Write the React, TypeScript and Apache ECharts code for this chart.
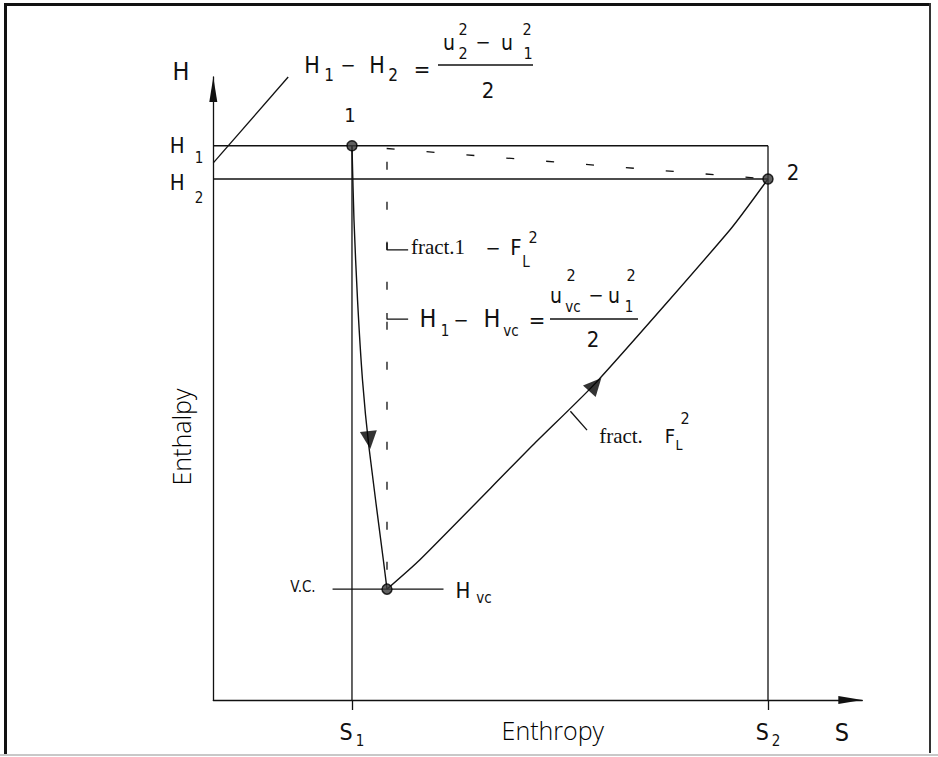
import React, { useEffect, useRef } from "react";
import * as echarts from "echarts";

// ---- data: entropy S (x) vs enthalpy H (y), arbitrary units ----
const S_TICKS = [20, 80]; // S1, S2
const S_SUBS = ["1", "2"];
const H_TICKS = [100, 94]; // H1, H2
const H_SUBS = ["1", "2"];
const STATE_POINTS = [
  [20, 100], // 1
  [80, 94], // 2
  [25.05, 20], // v.c.
];
const THROTTLE_PATH = [
  [20, 100],
  [20.29, 86.6],
  [20.8, 72.2],
  [21.52, 57.7],
  [22.45, 45.6],
  [24.52, 25.3],
  [25.05, 20],
];
const RECOVERY_PATH = [
  [25.05, 20],
  [29.8, 25.3],
  [46.1, 46.0],
  [55.3, 57.4],
  [74.5, 84.8],
  [80, 94],
];
const PATH_ARROWS = [
  [22.5, 46.9],
  [55.1, 56.9],
];
const ARROW_ANGLES = [186, -42];
const H1_GUIDE = [
  [0, 100],
  [80, 100],
];
const H2_GUIDE = [
  [0, 94],
  [80, 94],
];
const S1_GUIDE = [
  [20, 100],
  [20, 0],
];
const S2_GUIDE = [
  [80, 100],
  [80, 0],
];
const VC_GUIDE = [
  [17.2, 20],
  [33.2, 20],
];
const DIRECT_DASH = [
  [25, 99.5],
  [80, 94],
];
const VERTICAL_DASH = [
  [25.05, 97.1],
  [25.05, 20],
];
const NOTE_TICK_A = [
  [25.05, 82.45],
  [25.05, 81.2],
  [28.1, 81.2],
];
const NOTE_TICK_B = [
  [25.05, 69.8],
  [25.05, 68.7],
  [28.1, 68.7],
];
const LEADER_TOP = [
  [0, 96.9],
  [10.8, 112.4],
];
const LEADER_FRACT = [
  [51.5, 52.1],
  [53.9, 48.7],
];

const INK = "#111";
const NARROW = '"Liberation Sans Narrow", "DejaVu Sans Condensed", "Arial Narrow", sans-serif';
const SERIF = '"Liberation Serif", "DejaVu Serif", serif';
const SANS = '"Open Sans", "Noto Sans", sans-serif';

function txt(text: string, x: number, y: number, size: number, family = NARROW) {
  return {
    type: "text",
    x,
    y,
    z: 20,
    silent: true,
    style: {
      text,
      fill: INK,
      font: `normal ${size}px ${family}`,
      align: "center",
      verticalAlign: "middle",
      textAlign: "center",
      textVerticalAlign: "middle",
    },
  };
}

function bar(x1: number, y1: number, x2: number, y2: number) {
  return {
    type: "line",
    z: 20,
    silent: true,
    shape: { x1, y1, x2, y2 },
    style: { stroke: INK, lineWidth: 1.3 },
  };
}

function rect(x: number, y: number, width: number, height: number, fill: string) {
  return { type: "rect", z: 30, silent: true, shape: { x, y, width, height }, style: { fill } };
}

function lineSeries(data: number[][], extra: any = {}) {
  return {
    type: "line",
    data,
    symbol: "none",
    silent: true,
    clip: false,
    animation: false,
    lineStyle: { color: INK, width: 1.3, ...extra },
    z: 3,
  };
}

export default function App() {
  const ref = useRef<HTMLDivElement>(null);

  useEffect(() => {
    document.body.style.margin = "0";
    if (!ref.current) return;
    const chart = echarts.init(ref.current, undefined, { renderer: "svg" });

    const option: any = {
      animation: false,
      backgroundColor: "#fff",
      grid: {
        left: 213.3,
        top: 77,
        width: 649,
        height: 623,
        containLabel: false,
        outerBoundsMode: "none",
      },
      xAxis: {
        type: "value",
        min: 0,
        max: 93.6,
        splitLine: { show: false },
        axisLine: {
          show: true,
          onZero: false,
          lineStyle: { color: INK, width: 1.3 },
          symbol: ["none", "triangle"],
          symbolSize: [8, 24],
          symbolOffset: [0, -12],
        },
        axisTick: {
          show: true,
          customValues: S_TICKS,
          length: 10,
          lineStyle: { color: INK, width: 1.3 },
        },
        axisLabel: {
          customValues: S_TICKS,
          margin: 15,
          formatter: (v: number) => {
            const i = S_TICKS.indexOf(v);
            return `{s|S}{b|${S_SUBS[i] ?? ""}}`;
          },
          rich: {
            s: { fontFamily: NARROW, fontSize: 23, color: INK, verticalAlign: "middle" },
            b: {
              fontFamily: NARROW,
              fontSize: 15,
              color: INK,
              verticalAlign: "middle",
              padding: [18, 0, 0, 3],
            },
          },
        },
        name: "Enthropy",
        nameLocation: "middle",
        nameGap: 17,
        nameMoveOverlap: false,
        nameTextStyle: {
          fontFamily: SANS,
          fontWeight: 300,
          fontSize: 25,
          color: "#000",
          padding: [0, 0, 0, 30],
        },
      },
      yAxis: {
        type: "value",
        min: 0,
        max: 112.4,
        splitLine: { show: false },
        axisLine: {
          show: true,
          onZero: false,
          lineStyle: { color: INK, width: 1.3 },
          symbol: ["none", "triangle"],
          symbolSize: [8, 25],
          symbolOffset: [0, -12.5],
        },
        axisTick: { show: false },
        axisLabel: {
          customValues: H_TICKS,
          margin: 10,
          formatter: (v: number) => {
            const i = H_TICKS.indexOf(v);
            return `{h${i}|H}{b${i}|${H_SUBS[i] ?? ""}}`;
          },
          rich: {
            h0: { fontFamily: NARROW, fontSize: 22, color: INK, verticalAlign: "middle" },
            b0: {
              fontFamily: NARROW,
              fontSize: 15,
              color: INK,
              verticalAlign: "middle",
              padding: [24, 0, 0, 10],
            },
            h1: {
              fontFamily: NARROW,
              fontSize: 22,
              color: INK,
              verticalAlign: "middle",
              padding: [8, 0, 0, 0],
            },
            b1: {
              fontFamily: NARROW,
              fontSize: 15,
              color: INK,
              verticalAlign: "middle",
              padding: [38, 0, 0, 10],
            },
          },
        },
        name: "Enthalpy",
        nameLocation: "middle",
        nameGap: 20,
        nameMoveOverlap: false,
        nameTextStyle: {
          fontFamily: SANS,
          fontWeight: 300,
          fontSize: 25,
          color: "#000",
          padding: [0, 97, 0, 0],
        },
      },
      series: [
        lineSeries(H1_GUIDE),
        lineSeries(H2_GUIDE),
        lineSeries(S1_GUIDE),
        lineSeries(S2_GUIDE),
        lineSeries(VC_GUIDE),
        lineSeries(DIRECT_DASH, { type: [8, 32] }),
        lineSeries(VERTICAL_DASH, { type: [8, 32] }),
        lineSeries(NOTE_TICK_A),
        lineSeries(NOTE_TICK_B),
        lineSeries(LEADER_TOP),
        lineSeries(LEADER_FRACT),
        { ...lineSeries(THROTTLE_PATH, { width: 1.4 }), smooth: 0.25 },
        { ...lineSeries(RECOVERY_PATH, { width: 1.4 }), smooth: 0.2 },
        {
          type: "scatter",
          silent: true,
          clip: false,
          z: 6,
          symbol: "triangle",
          symbolSize: [17, 18],
          itemStyle: { color: "#000" },
          data: PATH_ARROWS.map((p, i) => ({ value: p, symbolRotate: ARROW_ANGLES[i] })),
        },
        {
          type: "scatter",
          silent: true,
          clip: false,
          z: 7,
          symbol: "circle",
          symbolSize: 10,
          itemStyle: { color: "#3a3a3a", borderColor: "#000", borderWidth: 1.5 },
          data: STATE_POINTS,
        },
      ],
      graphic: [
        // frame
        rect(4, 3, 927, 3, INK),
        rect(4, 3, 3, 752, INK),
        rect(929, 3, 2, 750, "#333"),
        rect(0, 754, 938, 2, "#c8c8c8"),
        // axis symbols
        txt("H", 181, 71, 25),
        txt("S", 842, 732, 25),
        // state labels
        txt("1", 350, 115, 20),
        txt("2", 793, 172, 22),
        txt("V.C.", 303, 587, 15),
        txt("H", 463, 590, 22),
        txt("vc", 484, 598, 15),
        // H1 - H2 = (u2^2 - u1^2)/2
        txt("H", 312, 65, 23),
        txt("1", 329, 75, 17),
        txt("\u2212", 348, 65, 20),
        txt("H", 377, 65, 23),
        txt("2", 393, 75, 17),
        txt("=", 422, 69, 22),
        bar(438, 65, 533, 65),
        txt("u", 449, 43, 21),
        txt("2", 463, 53, 16),
        txt("2", 463, 29, 16),
        txt("\u2212", 483, 42, 20),
        txt("u", 507, 43, 21),
        txt("1", 528, 53, 16),
        txt("2", 527, 29, 16),
        txt("2", 488, 90, 22),
        // fract.1 - F_L^2
        txt("fract.1", 438, 247, 21, SERIF),
        txt("\u2212", 493, 248, 20),
        txt("F", 516, 247, 22),
        txt("L", 526, 262, 15),
        txt("2", 533, 237, 16),
        // H1 - Hvc = (uvc^2 - u1^2)/2
        txt("H", 428, 318, 25),
        txt("1", 445, 331, 15),
        txt("\u2212", 461, 320, 20),
        txt("H", 492, 318, 25),
        txt("vc", 511, 331, 15),
        txt("=", 537, 320, 22),
        bar(550, 319, 638, 319),
        txt("u", 556, 296, 21),
        txt("vc", 573, 307, 15),
        txt("2", 571, 275, 16),
        txt("\u2212", 596, 295, 20),
        txt("u", 614, 296, 21),
        txt("1", 629, 307, 15),
        txt("2", 631, 275, 16),
        txt("2", 593, 339, 22),
        // fract. F_L^2
        txt("fract.", 621, 436, 21, SERIF),
        txt("F", 670, 436, 20),
        txt("L", 679, 445, 14),
        txt("2", 685, 418, 16),
      ],
    };

    chart.setOption(option);
    return () => chart.dispose();
  }, []);

  return <div ref={ref} style={{ width: 938, height: 757 }} />;
}
